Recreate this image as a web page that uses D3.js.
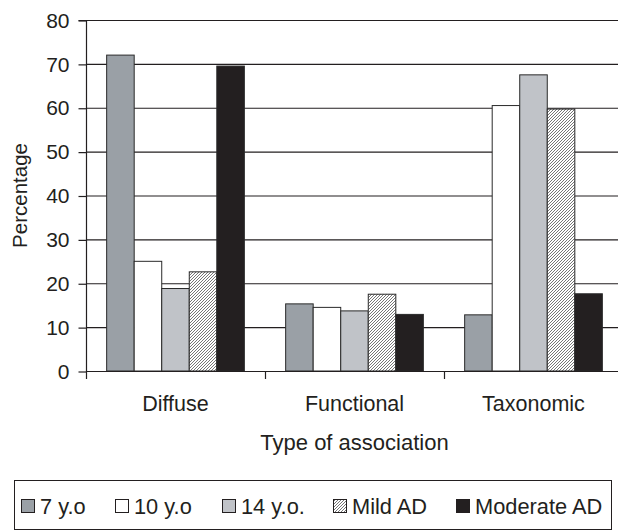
<!DOCTYPE html>
<html>
<head>
<meta charset="utf-8">
<script src="https://cdn.jsdelivr.net/npm/d3@7"></script>
<style>
  html, body { margin: 0; padding: 0; background: #fff; }
  svg { display: block; font-family: "Liberation Sans", Arial, Helvetica, sans-serif; }
</style>
</head>
<body>
<svg id="chart" width="618" height="530"></svg>
<script>
// ---- data ----
const categories = ["Diffuse", "Functional", "Taxonomic"];
const seriesNames = ["7 y.o", "10 y.o", "14 y.o.", "Mild AD", "Moderate AD"];
const values7 = [72, 15.3, 12.8];
const values10 = [25, 14.5, 60.5];
const values14 = [18.8, 13.7, 67.5];
const valuesMild = [22.6, 17.5, 59.7];
const valuesModerate = [69.5, 12.9, 17.6];
const yTicks = [0, 10, 20, 30, 40, 50, 60, 70, 80];
const yLabel = "Percentage";
const xLabel = "Type of association";

const seriesValues = [values7, values10, values14, valuesMild, valuesModerate];
const seriesFill = ["#9aa0a6", "#ffffff", "#c0c3c8", "url(#hatch)", "#231f20"];

const svg = d3.select("#chart");
const pLeft = 86, pRight = 623, pTop = 20, pBottom = 371;
const ink = "#231f20";

// hatch pattern
const defs = svg.append("defs");
const pat = defs.append("pattern")
  .attr("id", "hatch").attr("patternUnits", "userSpaceOnUse")
  .attr("width", 3).attr("height", 3);
pat.append("rect").attr("width", 3).attr("height", 3).attr("fill", "#fff");
pat.append("path").attr("d", "M-1,1 L1,-1 M0,3 L3,0 M2,4 L4,2")
  .attr("stroke", "#666").attr("stroke-width", 0.9);

const x = d3.scaleBand().domain(categories).range([pLeft, pRight]);
const x1 = d3.scaleBand().domain(seriesNames).range([0, x.bandwidth()])
  .paddingInner(0).paddingOuter(0.75);
const y = d3.scaleLinear().domain([0, 80]).range([pBottom, pTop]);

// gridlines
svg.append("g").selectAll("line").data(yTicks.filter(d => d > 0)).join("line")
  .attr("x1", pLeft).attr("x2", 618)
  .attr("y1", d => y(d) + 0.5).attr("y2", d => y(d) + 0.5)
  .attr("stroke", ink).attr("stroke-width", 1.2);

// bars
const rows = [];
categories.forEach((c, ci) => {
  seriesNames.forEach((s, si) => rows.push({ c, s, si, v: seriesValues[si][ci] }));
});
svg.append("g").selectAll("rect").data(rows).join("rect")
  .attr("x", d => x(d.c) + x1(d.s))
  .attr("y", d => y(d.v))
  .attr("width", x1.bandwidth())
  .attr("height", d => y(0) - y(d.v))
  .attr("fill", d => seriesFill[d.si])
  .attr("stroke", "#2a2a2a").attr("stroke-width", 1);

// y axis
const yAxis = d3.axisLeft(y).tickValues(yTicks).tickSize(8).tickPadding(9);
const gy = svg.append("g").attr("transform", `translate(${pLeft + 0.5},0.5)`).call(yAxis);
gy.select(".domain").attr("stroke", ink).attr("stroke-width", 1.2).attr("d", `M-8,${y(80)}H0V${y(0)}`);
gy.selectAll(".tick line").attr("stroke", ink).attr("stroke-width", 1.2);
gy.selectAll(".tick text").attr("font-size", 21).attr("fill", ink)
  .attr("font-family", "Liberation Sans, Arial, sans-serif");

// x axis
const tickPos = categories.map(c => x(c)).concat([x(categories[2]) + x.bandwidth()]);
const gx = svg.append("g");
gx.append("line").attr("x1", pLeft).attr("x2", 618)
  .attr("y1", y(0) + 0.5).attr("y2", y(0) + 0.5)
  .attr("stroke", ink).attr("stroke-width", 1.2);
gx.selectAll("line.t").data(tickPos).join("line").attr("class", "t")
  .attr("x1", d => d + 0.5).attr("x2", d => d + 0.5)
  .attr("y1", y(0)).attr("y2", y(0) + 8)
  .attr("stroke", ink).attr("stroke-width", 1.2);
gx.selectAll("text").data(categories).join("text")
  .attr("x", d => x(d) + x.bandwidth() / 2)
  .attr("y", 411)
  .attr("text-anchor", "middle")
  .attr("font-size", 21.5).attr("fill", ink)
  .text(d => d);

// axis titles
svg.append("text").attr("x", (pLeft + pRight) / 2).attr("y", 450)
  .attr("text-anchor", "middle").attr("font-size", 22).attr("fill", ink).text(xLabel);
svg.append("text").attr("transform", `translate(27,${(pTop + pBottom) / 2}) rotate(-90)`)
  .attr("text-anchor", "middle").attr("font-size", 20.5).attr("fill", ink).text(yLabel);

// legend
const lg = svg.append("g");
lg.append("rect").attr("x", 14.5).attr("y", 480.5).attr("width", 597).attr("height", 49)
  .attr("fill", "none").attr("stroke", ink).attr("stroke-width", 1);
const legendX = [21, 115, 222, 333, 456];
const li = lg.selectAll("g.item").data(seriesNames).join("g").attr("class", "item")
  .attr("transform", (d, i) => `translate(${legendX[i]},499)`);
li.append("rect").attr("x", 0.5).attr("y", 0.5).attr("width", 13).attr("height", 13)
  .attr("fill", (d, i) => seriesFill[i]).attr("stroke", ink).attr("stroke-width", 1);
li.append("text").attr("x", 19).attr("y", 14.5)
  .attr("font-size", 21.8).attr("fill", ink).text(d => d);
</script>
</body>
</html>
